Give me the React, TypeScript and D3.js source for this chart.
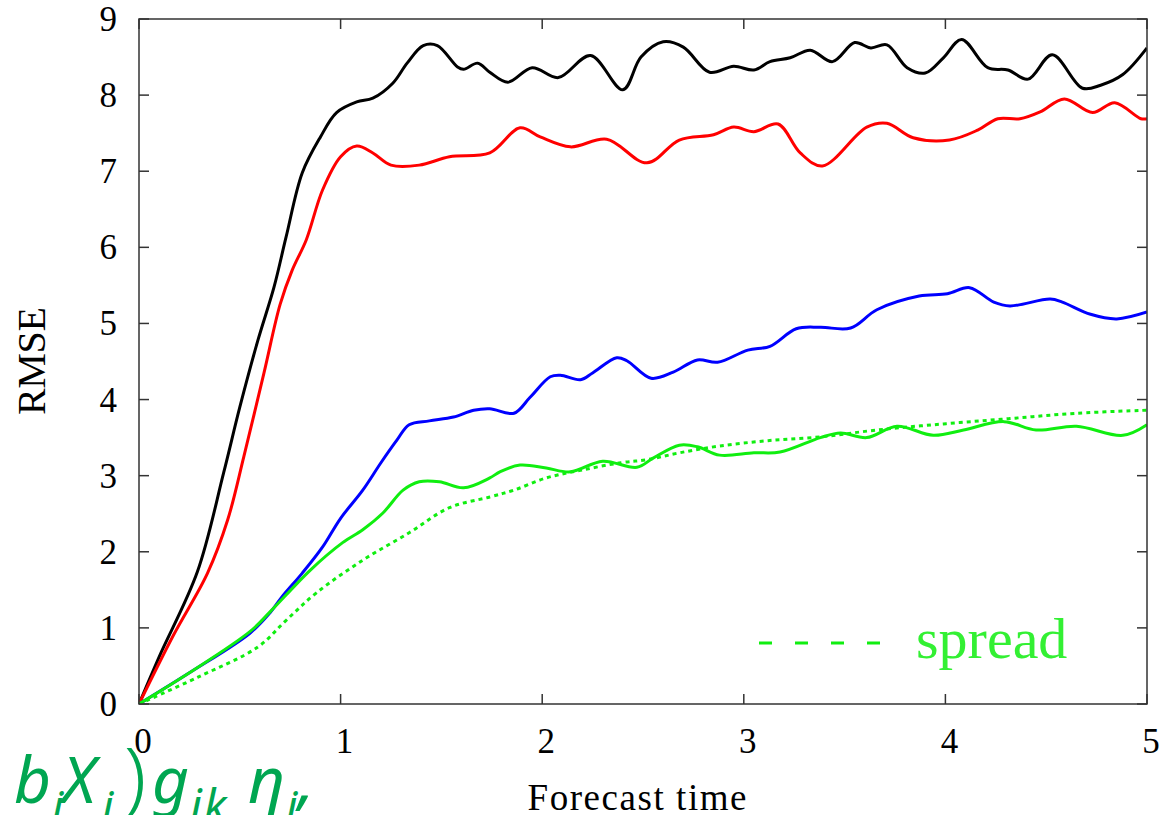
import * as d3 from 'd3';

const WIDTH = 1167;
const HEIGHT = 815;

// forecast time -> RMSE
const blackT = [0, 0.1, 0.29, 0.42, 0.5, 0.59, 0.67, 0.73, 0.81, 0.9, 0.98, 1.08, 1.16, 1.26, 1.33, 1.41, 1.48, 1.58, 1.61, 1.68, 1.74, 1.83, 1.95, 2.08, 2.24, 2.4, 2.49, 2.6, 2.7, 2.83, 2.95, 3.05, 3.13, 3.23, 3.33, 3.44, 3.55, 3.63, 3.71, 3.81, 3.9, 3.99, 4.08, 4.21, 4.31, 4.41, 4.53, 4.68, 4.77, 4.88, 5.0];
const blackV = [0, 0.62, 1.74, 3.04, 3.9, 4.78, 5.48, 6.14, 6.98, 7.45, 7.77, 7.91, 7.96, 8.16, 8.42, 8.65, 8.65, 8.37, 8.34, 8.42, 8.3, 8.17, 8.36, 8.23, 8.52, 8.07, 8.5, 8.7, 8.63, 8.3, 8.38, 8.33, 8.44, 8.49, 8.59, 8.44, 8.69, 8.62, 8.66, 8.36, 8.29, 8.49, 8.73, 8.36, 8.33, 8.21, 8.53, 8.09, 8.13, 8.27, 8.62];

const redT = [0, 0.17, 0.34, 0.44, 0.52, 0.62, 0.7, 0.76, 0.83, 0.91, 1.0, 1.08, 1.16, 1.25, 1.39, 1.54, 1.74, 1.89, 1.99, 2.14, 2.32, 2.52, 2.68, 2.85, 2.95, 3.05, 3.17, 3.28, 3.39, 3.61, 3.71, 3.84, 4.02, 4.16, 4.26, 4.37, 4.47, 4.59, 4.73, 4.84, 4.97, 5.0];
const redV = [0, 0.9, 1.72, 2.42, 3.25, 4.35, 5.25, 5.7, 6.1, 6.75, 7.19, 7.33, 7.24, 7.08, 7.08, 7.19, 7.24, 7.57, 7.45, 7.32, 7.42, 7.11, 7.41, 7.48, 7.58, 7.52, 7.62, 7.24, 7.07, 7.58, 7.63, 7.44, 7.41, 7.54, 7.69, 7.69, 7.78, 7.95, 7.77, 7.9, 7.69, 7.69];

const blueT = [0, 0.25, 0.55, 0.65, 0.71, 0.81, 0.91, 1.0, 1.11, 1.2, 1.28, 1.34, 1.44, 1.56, 1.66, 1.74, 1.86, 1.94, 2.04, 2.09, 2.19, 2.25, 2.37, 2.42, 2.54, 2.65, 2.77, 2.87, 3.02, 3.13, 3.26, 3.38, 3.53, 3.66, 3.87, 4.01, 4.12, 4.24, 4.32, 4.52, 4.58, 4.72, 4.85, 5.0];
const blueV = [0, 0.41, 0.93, 1.2, 1.41, 1.72, 2.06, 2.44, 2.81, 3.17, 3.47, 3.67, 3.72, 3.77, 3.86, 3.88, 3.82, 4.03, 4.3, 4.32, 4.26, 4.35, 4.55, 4.51, 4.28, 4.36, 4.52, 4.49, 4.65, 4.7, 4.93, 4.95, 4.94, 5.18, 5.36, 5.39, 5.47, 5.28, 5.23, 5.32, 5.28, 5.12, 5.06, 5.15];

const greenT = [0, 0.25, 0.55, 0.65, 0.85, 1.01, 1.11, 1.21, 1.31, 1.39, 1.49, 1.61, 1.74, 1.79, 1.89, 2.02, 2.14, 2.3, 2.47, 2.55, 2.68, 2.77, 2.88, 3.05, 3.18, 3.38, 3.48, 3.61, 3.76, 3.94, 4.09, 4.29, 4.45, 4.65, 4.88, 5.0];
const greenV = [0, 0.41, 0.95, 1.21, 1.76, 2.12, 2.29, 2.51, 2.81, 2.92, 2.92, 2.84, 2.97, 3.05, 3.14, 3.1, 3.05, 3.19, 3.11, 3.23, 3.4, 3.38, 3.27, 3.3, 3.31, 3.5, 3.56, 3.5, 3.65, 3.53, 3.6, 3.71, 3.6, 3.65, 3.53, 3.67];

const spreadT = [0, 0.29, 0.59, 0.73, 0.88, 1.11, 1.34, 1.54, 1.74, 1.86, 2.02, 2.19, 2.39, 2.52, 2.68, 2.88, 3.12, 3.38, 3.66, 3.99, 4.32, 4.65, 5.0];
const spreadV = [0, 0.35, 0.75, 1.1, 1.46, 1.89, 2.25, 2.58, 2.72, 2.81, 2.97, 3.07, 3.17, 3.21, 3.3, 3.39, 3.46, 3.51, 3.6, 3.68, 3.75, 3.82, 3.86];

const xTicks = [0, 1, 2, 3, 4, 5];
const yTicks = [0, 1, 2, 3, 4, 5, 6, 7, 8, 9];

const SERIF = '"Liberation Serif", "Times New Roman", serif';
const GREEN = '#10ee10';

const plot = { left: 139, right: 1147, top: 19, bottom: 704 };

export default function App() {
    const x = d3.scaleLinear().domain([0, 5]).range([plot.left, plot.right]);
    const y = d3.scaleLinear().domain([0, 9]).range([plot.bottom, plot.top]);

    const line = d3
        .line<[number, number]>()
        .x((d) => x(d[0]))
        .y((d) => y(d[1]))
        .curve(d3.curveCatmullRom.alpha(0.5));

    const zip = (t: number[], v: number[]) => t.map((ti, i) => [ti, v[i]] as [number, number]);

    const series = [
        { t: blackT, v: blackV, color: '#000000', dash: undefined },
        { t: redT, v: redV, color: '#ff0000', dash: undefined },
        { t: blueT, v: blueV, color: '#0000ff', dash: undefined },
        { t: greenT, v: greenV, color: GREEN, dash: undefined },
        { t: spreadT, v: spreadV, color: GREEN, dash: '4 4' },
    ];

    const tickLen = 10;
    const axisColor = '#333';

    return (
        <svg
            width={WIDTH}
            height={HEIGHT}
            style={{ position: 'absolute', left: 0, top: 0, background: '#fff' }}
        >
            <rect x={0} y={0} width={WIDTH} height={HEIGHT} fill="#fff" />
            <defs>
                <clipPath id="plotClip">
                    <rect x={plot.left} y={plot.top - 2} width={plot.right - plot.left} height={plot.bottom - plot.top + 2} />
                </clipPath>
            </defs>

            {/* ticks, mirrored on all four sides */}
            {xTicks.map((t) => (
                <g key={'xt' + t}>
                    <line x1={x(t)} x2={x(t)} y1={plot.bottom} y2={plot.bottom - tickLen} stroke={axisColor} strokeWidth={1.5} />
                    <line x1={x(t)} x2={x(t)} y1={plot.top} y2={plot.top + tickLen} stroke={axisColor} strokeWidth={1.5} />
                    <text x={x(t) + 4} y={753} textAnchor="middle" fontFamily={SERIF} fontSize={35} fill="#000">
                        {t}
                    </text>
                </g>
            ))}
            {yTicks.map((t) => (
                <g key={'yt' + t}>
                    <line x1={plot.left} x2={plot.left + tickLen} y1={y(t)} y2={y(t)} stroke={axisColor} strokeWidth={1.5} />
                    <line x1={plot.right} x2={plot.right - tickLen} y1={y(t)} y2={y(t)} stroke={axisColor} strokeWidth={1.5} />
                    <text x={117} y={y(t) + 12} textAnchor="end" fontFamily={SERIF} fontSize={35} fill="#000">
                        {t}
                    </text>
                </g>
            ))}

            <g clipPath="url(#plotClip)">
                {series.map((s, i) => (
                    <path
                        key={i}
                        d={line(zip(s.t, s.v)) ?? ''}
                        fill="none"
                        stroke={s.color}
                        strokeWidth={3}
                        strokeDasharray={s.dash}
                        strokeLinejoin="round"
                    />
                ))}
            </g>

            <rect
                x={plot.left}
                y={plot.top}
                width={plot.right - plot.left}
                height={plot.bottom - plot.top}
                fill="none"
                stroke={axisColor}
                strokeWidth={1.5}
            />

            {/* legend */}
            <line x1={759} x2={880} y1={643} y2={643} stroke={GREEN} strokeWidth={3} strokeDasharray="13 23" />
            <text x={916} y={658} fontFamily={SERIF} fontSize={58} fill="#33f033">
                spread
            </text>

            {/* axis titles */}
            <text x={637} y={810} textAnchor="middle" fontFamily={SERIF} fontSize={37} textLength={219} fill="#000">
                Forecast time
            </text>
            <text
                transform="translate(45,361) rotate(-90)"
                textAnchor="middle"
                fontFamily={SERIF}
                fontSize={40}
                textLength={108}
                fill="#000"
            >
                RMSE
            </text>

            {/* stray formula fragment at the bottom left */}
            <g fill="#00a651" fontFamily='"Noto Sans", "DejaVu Sans", sans-serif' fontStyle="italic">
                <text x={14} y={803} fontSize={64}>b</text>
                <text x={52} y={822} fontSize={44}>i</text>
                <text x={62} y={803} fontSize={64}>X</text>
                <text x={102} y={822} fontSize={44}>i</text>
                <text x={124} y={804} fontSize={80} fontStyle="normal" fontWeight={300}>
                    )
                </text>
                <text x={152} y={803} fontSize={64}>g</text>
                <text x={190} y={822} fontSize={46} letterSpacing={2}>ik</text>
                <text x={248} y={803} fontSize={64}>η</text>
                <text x={286} y={822} fontSize={44}>i</text>
                <text x={298} y={803} fontSize={64}>,</text>
            </g>
        </svg>
    );
}
